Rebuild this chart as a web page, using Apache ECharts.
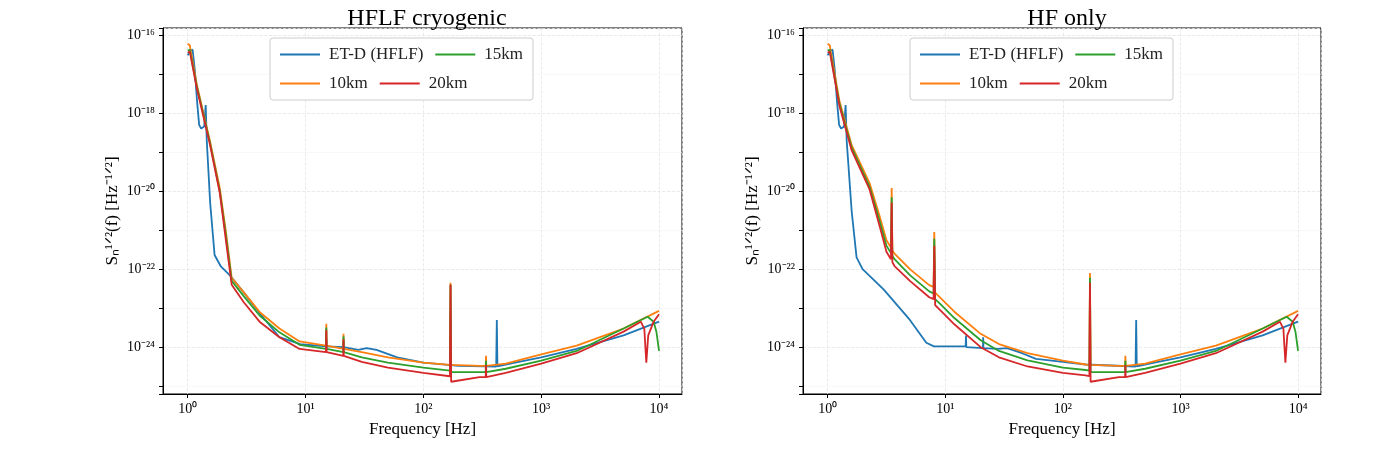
<!DOCTYPE html>
<html>
<head>
<meta charset="utf-8">
<script src="https://cdn.jsdelivr.net/npm/echarts@6/dist/echarts.min.js"></script>
<style>html,body{margin:0;padding:0;background:#fff}#c{width:1400px;height:468px}</style>
</head>
<body>
<div id="c"></div>
<script>
// ---- data ----
const titles = ['HFLF cryogenic', 'HF only'];
const names = ['ET-D (HFLF)', '10km', '15km', '20km'];
const legendOrder = ['ET-D (HFLF)', '15km', '10km', '20km'];
const colors = ['#1f77b4', '#ff7f0e', '#2ca02c', '#d62728'];

const etdF_L = [1.0,1.05,1.1,1.15,1.2,1.25,1.3,1.38,1.42,1.45,1.55,1.69,1.9,2.27,3,4,6,9,14.9,15,15.1,20.9,21,21.1,28,33,40,60,100,200,415,420,425,600,1000,2000,5000,10000];
const etdV_L = [3e-17,4e-17,4.2e-17,1.2e-17,2e-18,5e-19,4e-19,4.5e-19,1.6e-18,2e-19,5e-21,2.3e-22,1.2e-22,7e-23,2.5e-23,8e-24,1.8e-24,1.2e-24,1.05e-24,1.6e-24,1.05e-24,1e-24,1.5e-24,1e-24,8.5e-25,9.5e-25,8.5e-25,5.5e-25,4e-25,3.3e-25,3.2e-25,5e-24,3.2e-25,4e-25,5.5e-25,9e-25,2e-24,4.5e-24];

const km10F_L = [1.0,1.04,1.2,1.54,1.87,2.1,2.36,3,4.07,6,8.9,14.9,15,15.1,20.9,21,21.1,30,50,100,168,170,172,300,338,340,342,500,1000,2000,5000,10000];
const km10V_L = [6e-17,5.5e-17,5e-18,2e-19,1.2e-20,1e-21,6e-23,2.5e-23,8e-24,3e-24,1.4e-24,1.1e-24,4e-24,1.1e-24,9e-25,2.2e-24,9e-25,7.5e-25,5.5e-25,4e-25,3.5e-25,4.5e-23,3.5e-25,3.3e-25,3.3e-25,6e-25,3.3e-25,3.8e-25,6.5e-25,1.1e-24,3e-24,8.5e-24];

const km15F_L = [1.0,1.04,1.2,1.54,1.87,2.1,2.36,3,4.07,6,8.9,14.9,15,15.1,20.9,21,21.1,30,50,100,168,170,172,300,338,340,342,500,1000,2000,5000,8000,9000,9500,10000];
const km15V_L = [4e-17,4.2e-17,4.5e-18,1.8e-19,1e-20,8e-22,5e-23,2e-23,6.5e-24,2.4e-24,1.15e-24,9e-25,3.2e-24,9e-25,7.5e-25,1.9e-24,7.5e-25,5.5e-25,4e-25,3e-25,2.5e-25,4e-23,2.3e-25,2.3e-25,2.3e-25,4.5e-25,2.3e-25,2.8e-25,4.5e-25,8e-25,3e-24,6e-24,4.5e-24,2.5e-24,8e-25];

const km20F_L = [1.0,1.04,1.2,1.54,1.87,2.1,2.36,3,4.07,6,8.9,14.9,15,15.1,20.9,21,21.1,30,50,100,168,170,172,300,338,340,342,500,1000,2000,5000,7000,7500,7800,8100,9000,10000];
const km20V_L = [3.5e-17,3.8e-17,4e-18,1.6e-19,9e-21,6e-22,4e-23,1.4e-23,4.5e-24,1.8e-24,9e-25,7.5e-25,2.7e-24,7.5e-25,6e-25,1.6e-24,6e-25,4.2e-25,3e-25,2.2e-25,1.8e-25,4e-23,1.3e-25,1.7e-25,1.7e-25,3.5e-25,1.7e-25,2.2e-25,3.8e-25,7e-25,2.5e-24,4.5e-24,3e-24,4e-25,2e-24,4.5e-24,7e-24];

const etdF_R = [1.0,1.05,1.1,1.15,1.2,1.25,1.3,1.38,1.42,1.45,1.6,1.76,1.98,3,5,6.9,8,14.9,15,15.1,20.9,21,21.1,28,33.5,45,59,100,156,415,420,425,600,1000,2000,5000,10000];
const etdV_R = [3e-17,4e-17,4.2e-17,1.2e-17,2e-18,5e-19,4e-19,4.5e-19,1.6e-18,2e-19,3e-21,2e-22,1e-22,3e-23,5e-24,1.3e-24,1.05e-24,1.05e-24,2e-24,1e-24,9.5e-25,1.8e-24,9.5e-25,9e-25,9.5e-25,7e-25,5e-25,4.2e-25,3.6e-25,3.2e-25,5e-24,3.2e-25,4e-25,5.5e-25,9e-25,2e-24,4.5e-24];

const km10F_R = [1.0,1.04,1.26,1.6,2.27,2.8,3.16,3.45,3.5,3.55,3.7,5,7.3,7.95,8.06,8.2,9,12,20,28.6,50,100,156,168,170,172,300,338,340,342,500,1000,2000,5000,10000];
const km10V_R = [6e-17,5.5e-17,2e-18,1.5e-19,1.6e-20,2e-21,5.5e-22,3.6e-22,1.2e-20,3e-22,2.5e-22,1e-22,3.9e-23,3.5e-23,9e-22,2.5e-23,1.9e-23,8e-24,2.2e-24,1.2e-24,7e-25,4.5e-25,3.6e-25,3.5e-25,8e-23,3.5e-25,3.3e-25,3.3e-25,6e-25,3.3e-25,3.8e-25,6.5e-25,1.1e-24,3e-24,8.5e-24];

const km15F_R = [1.0,1.04,1.26,1.6,2.27,2.8,3.16,3.45,3.5,3.55,3.7,5,7.3,7.95,8.06,8.2,9,12,20,28.6,50,100,156,168,170,172,300,338,340,342,500,1000,2000,5000,8000,9000,9500,10000];
const km15V_R = [4e-17,4.2e-17,1.7e-18,1.3e-19,1.3e-20,1.5e-21,4e-22,2.6e-22,7e-21,2.2e-22,1.8e-22,7e-23,2.7e-23,2.4e-23,6e-22,1.7e-23,1.3e-23,5.5e-24,1.5e-24,8e-25,4.6e-25,3e-25,2.6e-25,2.5e-25,6e-23,2.3e-25,2.3e-25,2.3e-25,4.5e-25,2.3e-25,2.8e-25,4.5e-25,8e-25,3e-24,6e-24,4.5e-24,2.5e-24,8e-25];

const km20F_R = [1.0,1.04,1.26,1.6,2.27,2.8,3.16,3.45,3.5,3.55,3.7,5,7.3,7.95,8.06,8.2,9,12,20,28.6,50,100,156,168,170,172,300,338,340,342,500,1000,2000,5000,7000,7500,7800,8100,9000,10000];
const km20V_R = [3.5e-17,3.8e-17,1.5e-18,1.1e-19,1.1e-20,1.1e-21,2.8e-22,1.8e-22,5e-21,1.5e-22,1.2e-22,5e-23,1.9e-23,1.7e-23,4e-22,1.2e-23,9e-24,3.8e-24,1e-24,5.5e-25,3.2e-25,2.2e-25,1.9e-25,1.8e-25,4.5e-23,1.3e-25,1.7e-25,1.7e-25,3.5e-25,1.7e-25,2.2e-25,3.8e-25,7e-25,2.5e-24,4.5e-24,3e-24,4e-25,2e-24,4.5e-24,7e-24];

const panels = [
  [[etdF_L, etdV_L], [km10F_L, km10V_L], [km15F_L, km15V_L], [km20F_L, km20V_L]],
  [[etdF_R, etdV_R], [km10F_R, km10V_R], [km15F_R, km15V_R], [km20F_R, km20V_R]]
];

// axes are laid out in decades (log10 of the value)
const sup = {'-': '⁻', '0': '⁰', '1': '¹', '2': '²', '3': '³', '4': '⁴', '5': '⁵', '6': '⁶', '7': '⁷', '8': '⁸', '9': '⁹'};
const pow10 = e => '10' + String(Math.round(e)).split('').map(c => sup[c]).join('');
const zip = (f, v) => f.map((x, i) => [Math.log10(x), Math.log10(v[i])]);

const font = 'Liberation Serif';
const grids = [
  {left: 163, right: 718, top: 28, bottom: 74, show: true, borderColor: '#000', borderWidth: 1},
  {left: 803, right: 79, top: 28, bottom: 74, show: true, borderColor: '#000', borderWidth: 1}
];
const centers = [422, 1062];

const chart = echarts.init(document.getElementById('c'));
const option = {
  animation: false,
  textStyle: {fontFamily: font},
  title: titles.map((t, i) => ({
    text: t, left: centers[i], top: 2, textAlign: 'center',
    textStyle: {fontFamily: font, fontSize: 24, fontWeight: 'normal', color: '#000'}
  })),
  legend: [0, 1].map(i => ({
    data: legendOrder, left: centers[i] - 152, top: 38, width: 290,
    itemWidth: 40, itemHeight: 2, itemGap: 12, icon: 'rect',
    backgroundColor: '#fff', borderColor: '#ccc', borderWidth: 1, borderRadius: 3, padding: [8, 10, 8, 10],
    textStyle: {fontFamily: font, fontSize: 17, color: '#222', padding: [0, 34, 0, 4]}
  })),
  grid: grids,
  xAxis: [0, 1].map(i => ({
    type: 'value', gridIndex: i, min: -0.21, max: 4.195,
    name: 'Frequency [Hz]', nameLocation: 'middle', nameGap: 26,
    nameTextStyle: {fontFamily: font, fontSize: 17, color: '#000'},
    axisLine: {onZero: false, lineStyle: {color: '#000'}},
    axisTick: {length: 4, lineStyle: {color: '#000'}},
    axisLabel: {
      formatter: v => (Math.abs(v - Math.round(v)) < 1e-6 ? pow10(v) : ''),
      showMinLabel: false, showMaxLabel: false,
      color: '#000', fontFamily: font, fontSize: 14
    },
    splitLine: {show: true, lineStyle: {color: '#e4e4e4', type: 'dashed', width: 0.8}}
  })),
  yAxis: [0, 1].map(i => ({
    type: 'value', gridIndex: i, min: -25.2, max: -15.82, splitNumber: 5,
    name: 'Sₙ¹ᐟ²(f) [Hz⁻¹ᐟ²]', nameLocation: 'middle', nameGap: 42,
    nameTextStyle: {fontFamily: font, fontSize: 17, color: '#000'},
    axisLine: {show: true, onZero: false, lineStyle: {color: '#000'}},
    axisTick: {show: true, length: 4, lineStyle: {color: '#000'}},
    minorTick: {show: true, splitNumber: 2, length: 4, lineStyle: {color: '#000'}},
    axisLabel: {
      formatter: v => (Math.abs(v - Math.round(v)) < 1e-6 ? pow10(v) : ''),
      showMinLabel: false, showMaxLabel: false,
      color: '#000', fontFamily: font, fontSize: 14
    },
    splitLine: {show: true, lineStyle: {color: '#e4e4e4', type: 'dashed', width: 0.8}},
    minorSplitLine: {show: true, lineStyle: {color: '#eeeeee', type: 'dotted', width: 0.8}}
  })),
  series: []
};
panels.forEach((p, gi) => {
  p.forEach(([f, v], si) => {
    option.series.push({
      name: names[si], type: 'line', xAxisIndex: gi, yAxisIndex: gi,
      data: zip(f, v), showSymbol: false,
      lineStyle: {color: colors[si], width: 1.8}, itemStyle: {color: colors[si]}
    });
  });
});
chart.setOption(option);
</script>
</body>
</html>
